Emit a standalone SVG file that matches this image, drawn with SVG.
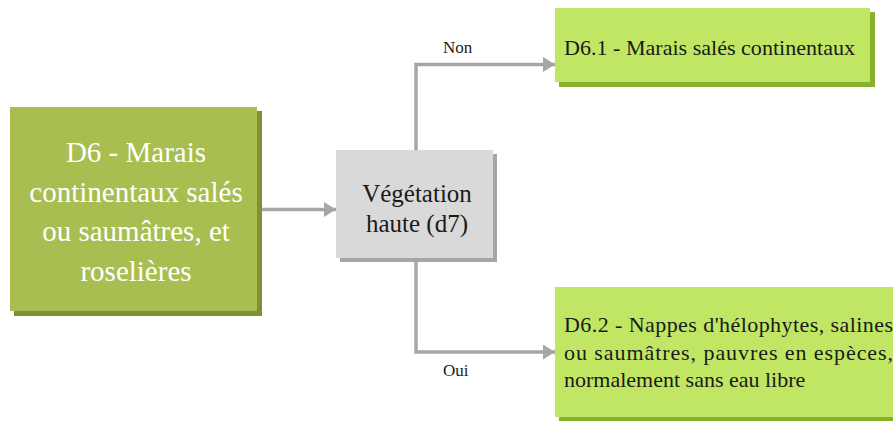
<svg xmlns="http://www.w3.org/2000/svg" width="893" height="421" viewBox="0 0 893 421" font-family="'Liberation Serif', 'Times New Roman', serif">
  <style>
    text { font-family: "Liberation Serif", "Times New Roman", serif; }
    .wire { fill: none; stroke: #a6a6a6; stroke-width: 3.5; }
    .white { fill: #ffffff; }
    .dark { fill: #1a1a1a; }
  </style>
  <defs>
    <marker id="arrow" viewBox="0 0 12 15" refX="12" refY="7.5" markerWidth="12" markerHeight="15" markerUnits="userSpaceOnUse" orient="auto">
      <path d="M0,0 L12,7.5 L0,15 Z" fill="#a6a6a6"/>
    </marker>
  </defs>
  <rect width="893" height="421" fill="#ffffff"/>

  <!-- connectors -->
  <g id="connectors">
    <path class="wire" d="M262,209.5 H336" marker-end="url(#arrow)"/>
    <path class="wire" d="M416,150 V64.5 H555" marker-end="url(#arrow)"/>
    <path class="wire" d="M416,262 V352 H555" marker-end="url(#arrow)"/>
    <text class="dark" x="443" y="53" font-size="17">Non</text>
    <text class="dark" x="443" y="376" font-size="17">Oui</text>
  </g>

  <!-- D6 root -->
  <g id="d6">
    <rect x="14" y="111" width="248" height="205" fill="#7f9136"/>
    <rect x="10" y="107" width="247" height="204" fill="#a9be51"/>
    <g class="white" font-size="29" text-anchor="middle">
      <text x="136" y="162">D6 - Marais</text>
      <text x="136" y="202">continentaux salés</text>
      <text x="136" y="241">ou saumâtres, et</text>
      <text x="136" y="281">roselières</text>
    </g>
  </g>

  <!-- d7 decision -->
  <g id="d7">
    <rect x="340" y="154" width="157" height="108" fill="#a6a6a6"/>
    <rect x="336" y="150" width="157" height="108" fill="#d9d9d9"/>
    <g class="dark" font-size="25" text-anchor="middle">
      <text x="417" y="202">Végétation</text>
      <text x="417" y="232">haute (d7)</text>
    </g>
  </g>

  <!-- D6.1 -->
  <g id="d6-1">
    <rect x="559" y="12" width="316" height="75" fill="#86b22d"/>
    <rect x="555" y="8" width="315" height="74" fill="#c1e664"/>
    <text class="dark" x="564" y="55" font-size="22" textLength="291" lengthAdjust="spacingAndGlyphs">D6.1 - Marais salés continentaux</text>
  </g>

  <!-- D6.2 -->
  <g id="d6-2">
    <rect x="559" y="291" width="340" height="130" fill="#86b22d"/>
    <rect x="555" y="287" width="340" height="130" fill="#c1e664"/>
    <g class="dark" font-size="22">
      <text x="564" y="332" textLength="329" lengthAdjust="spacing">D6.2 - Nappes d'hélophytes, salines</text>
      <text x="564" y="360" textLength="329" lengthAdjust="spacing">ou saumâtres, pauvres en espèces,</text>
      <text x="564" y="387">normalement sans eau libre</text>
    </g>
  </g>
</svg>
